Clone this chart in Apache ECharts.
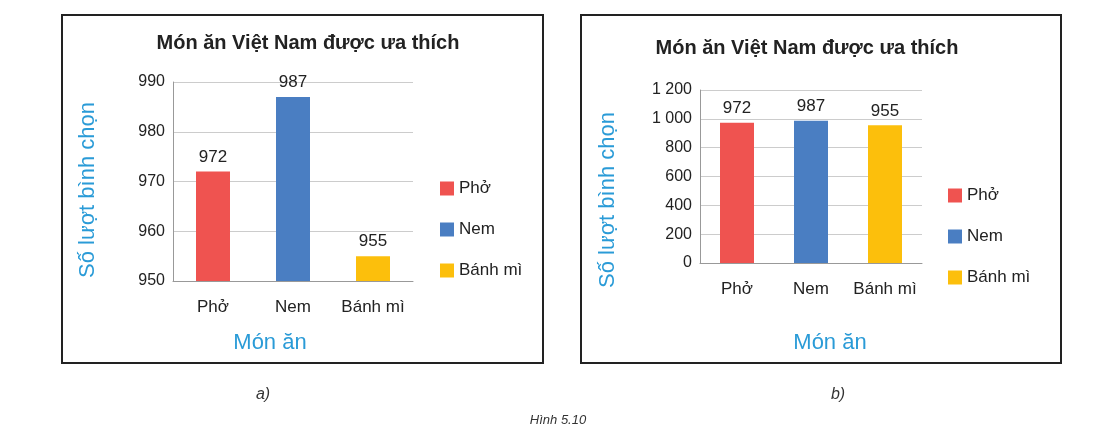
<!DOCTYPE html>
<html><head><meta charset="utf-8">
<script src="https://cdn.jsdelivr.net/npm/echarts@6/dist/echarts.min.js"></script>
<style>html,body{margin:0;background:#fff}#c{width:1116px;height:448px}</style>
</head><body><div id="c"></div>
<script>
const categories = ['Phở', 'Nem', 'Bánh mì'];
const values = [972, 987, 955];
const colors = ['#ef5350', '#4a7ec2', '#fcbf0c'];
const title = 'Món ăn Việt Nam được ưa thích';
const yName = 'Số lượt bình chọn';
const xName = 'Món ăn';
const F = 'Liberation Sans, Arial, sans-serif';
const blue = '#2a9bd7';

function seriesFor(idx) {
  return categories.map((c, i) => ({
    name: c, type: 'bar', xAxisIndex: idx, yAxisIndex: idx,
    data: categories.map((_, j) => j === i ? values[j] : null),
    barWidth: 34, barGap: '-100%',
    itemStyle: { color: colors[i] },
    label: { show: true, position: 'top', color: '#222', fontSize: 17, fontFamily: F, distance: 6 }
  }));
}
const axisLbl = { color: '#222', fontSize: 16, fontFamily: F };
const chart = echarts.init(document.getElementById('c'));
chart.setOption({
  animation: false,
  title: [
    { text: title, left: 303, top: 28, textAlign: 'center', textStyle: { fontSize: 20, fontWeight: 'bold', color: '#222', fontFamily: F } },
    { text: title, left: 802, top: 33, textAlign: 'center', textStyle: { fontSize: 20, fontWeight: 'bold', color: '#222', fontFamily: F } }
  ],
  grid: [
    { left: 173, top: 82, width: 240, height: 199 },
    { left: 700, top: 90, width: 222, height: 173 }
  ],
  legend: [
    { orient: 'vertical', left: 435, top: 175, itemWidth: 14, itemHeight: 14, itemGap: 24, icon: 'rect', data: categories, textStyle: { fontSize: 17, color: '#222', fontFamily: F } },
    { orient: 'vertical', left: 943, top: 182, itemWidth: 14, itemHeight: 14, itemGap: 24, icon: 'rect', data: categories, textStyle: { fontSize: 17, color: '#222', fontFamily: F } }
  ],
  xAxis: [0, 1].map(i => ({
    gridIndex: i, type: 'category', data: categories,
    axisTick: { show: false }, axisLine: { lineStyle: { color: '#999' } },
    axisLabel: Object.assign({ margin: 18, interval: 0 }, axisLbl, { fontSize: 17 }),
    splitLine: { show: false }
  })),
  yAxis: [
    { gridIndex: 0, min: 950, max: 990, interval: 10, axisLabel: axisLbl,
      axisLine: { show: true, lineStyle: { color: '#999' } }, axisTick: { show: false },
      splitLine: { lineStyle: { color: '#ccc' } } },
    { gridIndex: 1, min: 0, max: 1200, interval: 200,
      axisLabel: Object.assign({ formatter: v => String(v).replace(/\B(?=(\d{3})+(?!\d))/g, ' ') }, axisLbl),
      axisLine: { show: true, lineStyle: { color: '#999' } }, axisTick: { show: false },
      splitLine: { lineStyle: { color: '#ccc' } } }
  ],
  series: seriesFor(0).concat(seriesFor(1)),
  graphic: [
    { type: 'rect', shape: { x: 62, y: 15, width: 481, height: 348 }, style: { fill: 'none', stroke: '#222', lineWidth: 2 } },
    { type: 'rect', shape: { x: 581, y: 15, width: 480, height: 348 }, style: { fill: 'none', stroke: '#222', lineWidth: 2 } },
    { type: 'text', x: 88, y: 190, rotation: Math.PI / 2, style: { text: yName, fill: blue, fontSize: 22, fontFamily: F, align: 'center', verticalAlign: 'middle' } },
    { type: 'text', x: 608, y: 200, rotation: Math.PI / 2, style: { text: yName, fill: blue, fontSize: 22, fontFamily: F, align: 'center', verticalAlign: 'middle' } },
    { type: 'text', x: 270, y: 343, style: { text: xName, fill: blue, fontSize: 22, fontFamily: F, align: 'center', verticalAlign: 'middle' } },
    { type: 'text', x: 830, y: 343, style: { text: xName, fill: blue, fontSize: 22, fontFamily: F, align: 'center', verticalAlign: 'middle' } },
    { type: 'text', x: 263, y: 395, style: { text: 'a)', fill: '#333', fontSize: 16, fontStyle: 'italic', fontFamily: F, align: 'center', verticalAlign: 'middle' } },
    { type: 'text', x: 838, y: 395, style: { text: 'b)', fill: '#333', fontSize: 16, fontStyle: 'italic', fontFamily: F, align: 'center', verticalAlign: 'middle' } },
    { type: 'text', x: 558, y: 420, style: { text: 'Hình 5.10', fill: '#333', fontSize: 13, fontStyle: 'italic', fontFamily: F, align: 'center', verticalAlign: 'middle' } }
  ]
});
</script></body></html>
